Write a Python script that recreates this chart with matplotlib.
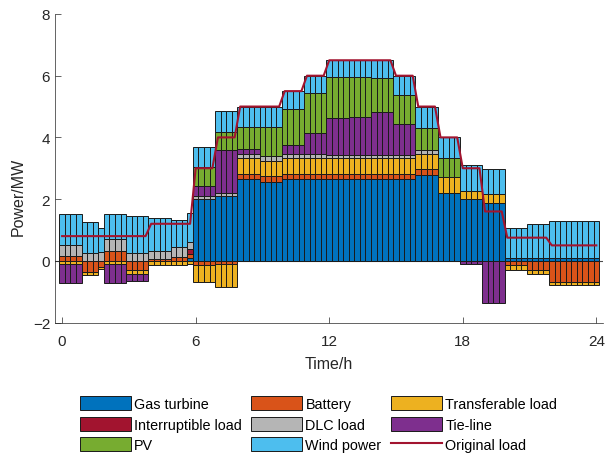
import numpy as np
import matplotlib.pyplot as plt

plt.rcParams['font.family'] = ['Liberation Sans', 'DejaVu Sans']

# hourly dispatch (MW), hour 0..23
gas_turbine = [0, 0, 0, 0, 0, 0, 2.0, 2.1, 2.66, 2.55, 2.66, 2.66,
               2.66, 2.66, 2.66, 2.66, 2.79, 2.2, 1.99, 1.88, 0.1, 0.1, 0.1, 0.1]
battery = [0.17, -0.36, 0.33, -0.31, 0.06, 0.12, -0.12, -0.11, 0.16, 0.2, 0.16, 0.16,
           0.16, 0.16, 0.16, 0.16, 0.17, 0, 0, 0, -0.15, -0.31, -0.69, -0.69]
transferable = [-0.1, -0.1, -0.1, -0.13, -0.14, -0.15, -0.57, -0.74, 0.51, 0.5, 0.51, 0.51,
                0.51, 0.51, 0.51, 0.51, 0.49, 0.51, 0.27, 0.29, -0.15, -0.13, -0.09, -0.09]
interruptible = [0] * 24
dlc = [0.33, 0.25, 0.38, 0.26, 0.26, 0.32, 0.11, 0.09, 0.14, 0.14, 0.14, 0.14,
       0.11, 0.11, 0.11, 0.11, 0.14, 0, 0, 0, 0, 0, 0, 0]
tie_line = [-0.61, 0, -0.61, -0.2, 0, 0, 0.3, 1.39, 0.16, 0, 0.29, 0.68,
            1.19, 1.22, 1.38, 0.99, 0, 0, -0.1, -1.36, 0, 0, 0, 0]
pv = [0, 0, 0, 0, 0, 0, 0.62, 0.6, 0.7, 0.94, 1.17, 1.3,
      1.32, 1.29, 1.1, 0.95, 0.72, 0.62, 0, 0, 0, 0, 0, 0]
wind = [1.01, 1.02, 0.8, 1.18, 1.06, 0.87, 0.66, 0.67, 0.67, 0.67, 0.57, 0.55,
        0.55, 0.55, 0.58, 0.62, 0.69, 0.67, 0.84, 0.79, 0.95, 1.09, 1.18, 1.18]
original_load = [0.8, 0.8, 0.8, 0.8, 1.2, 1.2, 3.0, 4.0, 5.0, 5.0, 5.5, 6.0,
                 6.5, 6.5, 6.5, 6.0, 5.0, 4.0, 3.0, 1.6, 0.75, 0.75, 0.5, 0.5]

# quarter-hours that differ from their hourly value (same order as the series)
override_t = [1.75, 5.75]
override_vals = [[0, -0.2, -0.08, 0, 0.27, 0, 0, 0.8],
                 [0.09, 0.14, -0.1, 0.16, 0.22, 0, 0, 0.95]]

names = ['Gas turbine', 'Battery', 'Transferable load', 'Interruptible load',
         'DLC load', 'Tie-line', 'PV', 'Wind power']
colors = ['#0072BD', '#D95319', '#EDB120', '#A2142F',
          '#B5B5B5', '#7E2F8E', '#77AC30', '#4DBEEE']
series = [gas_turbine, battery, transferable, interruptible, dlc, tie_line, pv, wind]

t = np.arange(97) / 4
hour = np.minimum(np.floor(t).astype(int), 23)

data = np.array([np.asarray(s, dtype=float)[hour] for s in series])
for tq, vals in zip(override_t, override_vals):
    k = int(round(tq * 4))
    data[:, k] = vals
load = np.asarray(original_load)[hour]

fig = plt.figure(figsize=(6.05, 4.56), dpi=100)
ax = fig.add_axes([55 / 605, (456 - 323.5) / 456, 548 / 605, 308.5 / 456])

# stack positives upward and negatives downward from zero
pos_base = np.zeros_like(t)
neg_base = np.zeros_like(t)
handles = []
for name, vals, c in zip(names, data, colors):
    bottom = np.where(vals >= 0, pos_base, neg_base)
    m = vals != 0
    b = ax.bar(t[m], vals[m], 0.25, bottom=bottom[m], color=c,
               edgecolor='#1a1a1a', linewidth=0.7, label=name, zorder=2)
    if not m.any():
        b = ax.bar([np.nan], [0], 0.25, color=c, edgecolor='#1a1a1a',
                   linewidth=0.7, label=name)
    handles.append(b)
    pos_base += np.clip(vals, 0, None)
    neg_base += np.clip(vals, None, 0)

ax.axhline(0, color='#4d4d4d', linewidth=0.8, zorder=1)
ln, = ax.plot(t, load, color='#A2142F', linewidth=1.5, label='Original load', zorder=3)
handles.append(ln)

ax.set_xlim(-0.32, 24.3)
ax.set_ylim(-2, 8)
ax.set_xticks([0, 6, 12, 18, 24])
ax.set_yticks([-2, 0, 2, 4, 6, 8])
ax.tick_params(direction='in', length=4, width=0.5, labelsize=11,
               colors='#262626')
ax.tick_params(axis='x', pad=8)
for s in ['top', 'right']:
    ax.spines[s].set_visible(False)
for s in ['left', 'bottom']:
    ax.spines[s].set_color('#262626')
    ax.spines[s].set_linewidth(0.5)

ax.set_xlabel('Time/h', fontsize=11.5, color='#262626', labelpad=6)
ax.set_ylabel('Power/MW', fontsize=11.5, color='#262626')
ax.yaxis.set_label_coords(-0.054, 0.41)

order = [0, 3, 6, 1, 4, 7, 2, 5, 8]
labels = names + ['Original load']
fig.legend([handles[i] for i in order], [labels[i] for i in order],
           ncol=3, loc='upper left', bbox_to_anchor=(80 / 605, 1 - 397 / 456),
           frameon=False, fontsize=10.4, handlelength=3.5, handleheight=1.12,
           handletextpad=0.25, columnspacing=0.65, labelspacing=0.4,
           borderpad=0, borderaxespad=0)

fig.savefig('out.png', dpi=100)
